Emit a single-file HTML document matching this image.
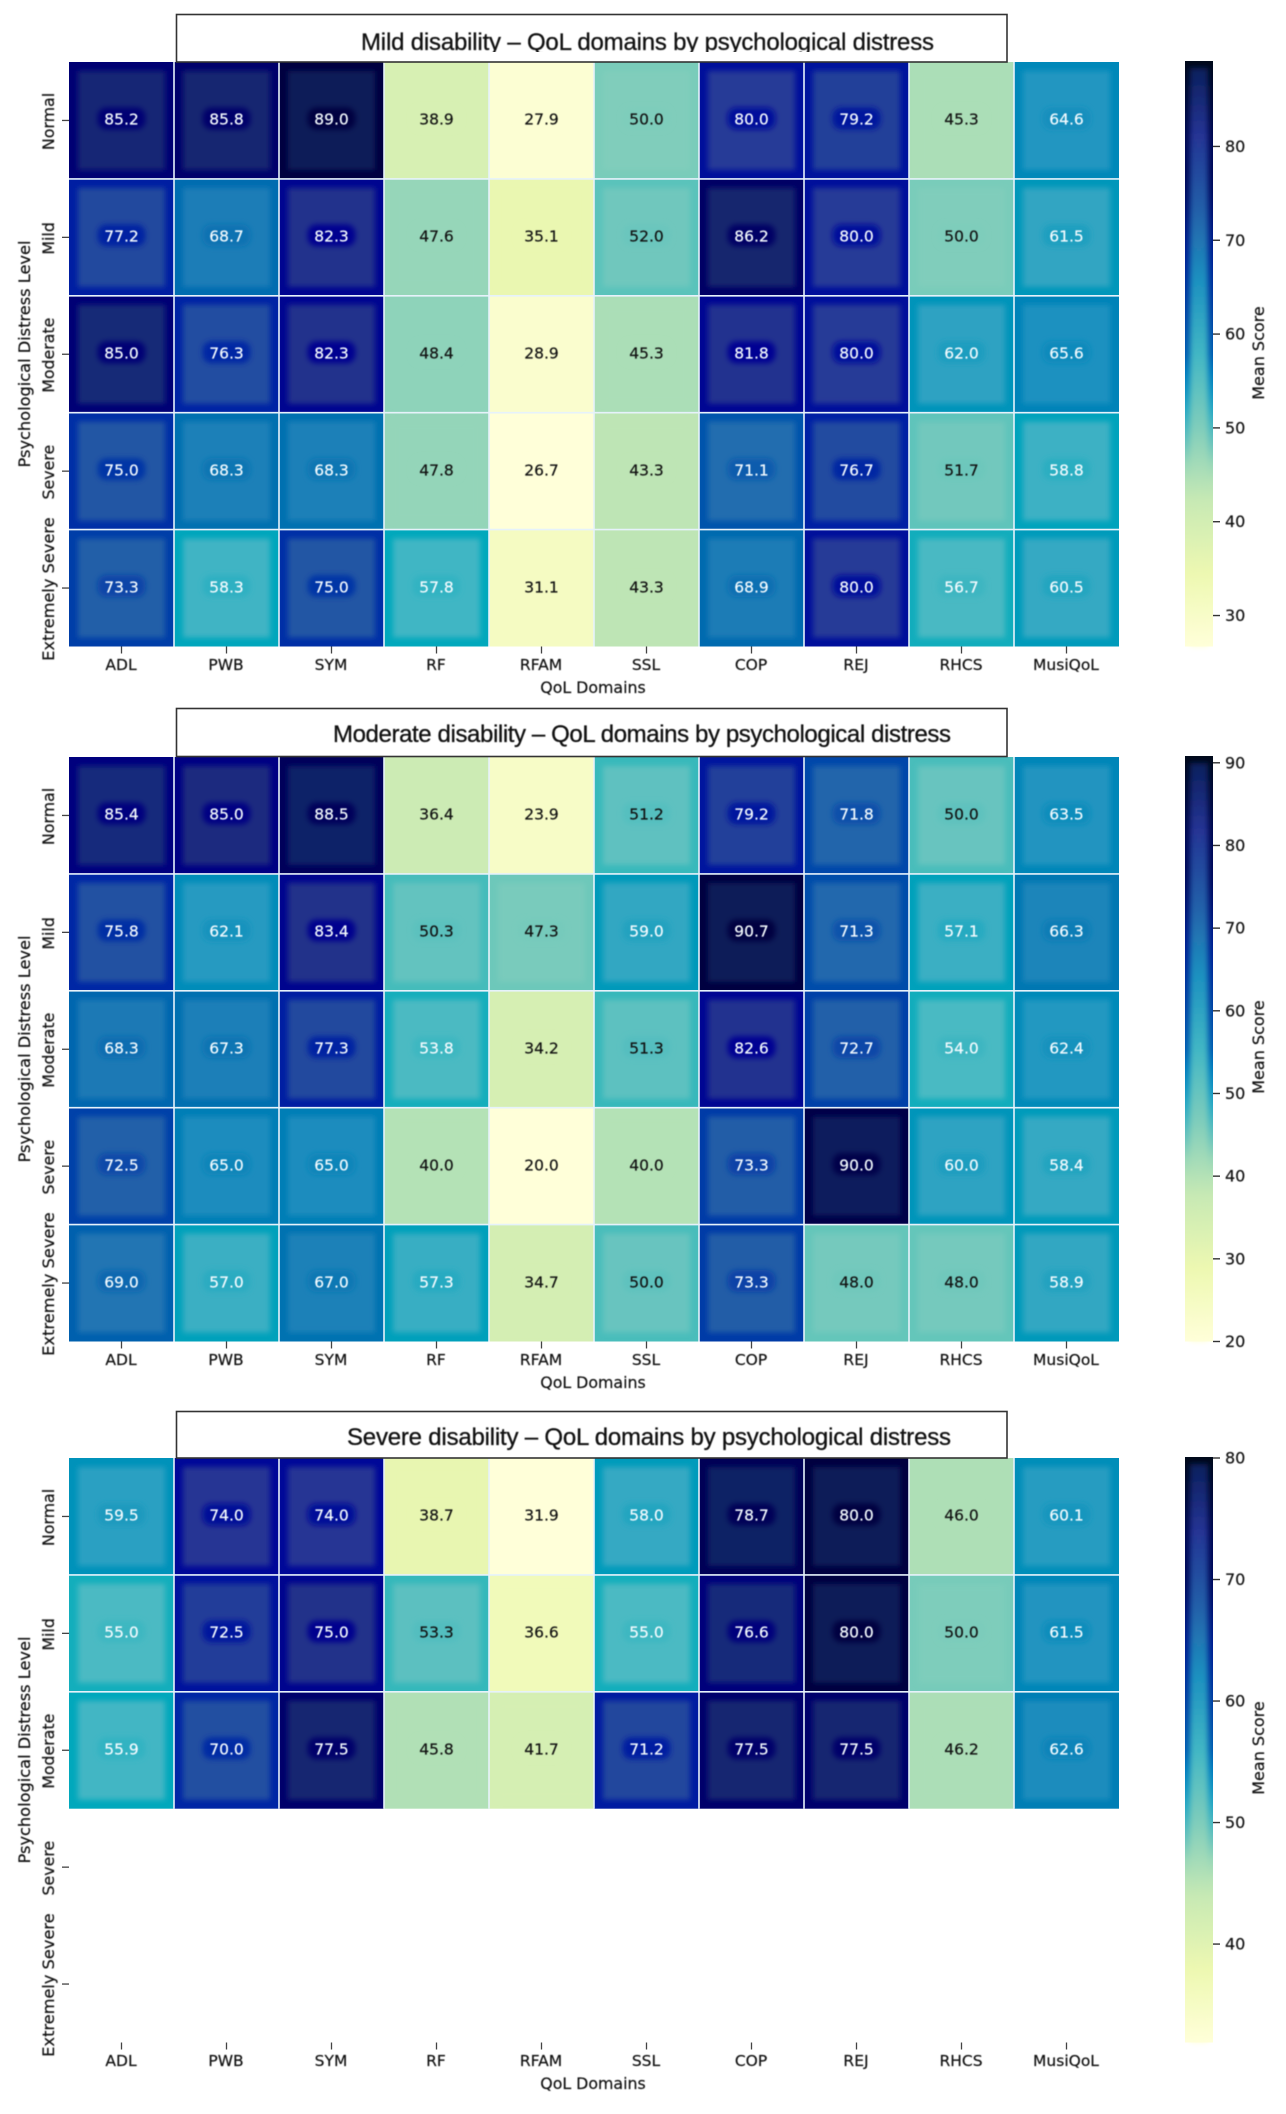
<!DOCTYPE html>
<html lang="en">
<head>
<meta charset="utf-8">
<title>QoL domains by psychological distress</title>
<style>
html,body{margin:0;padding:0;background:#fff;}
body{width:1286px;height:2114px;overflow:hidden;}
svg{display:block;}
text{font-family:"DejaVu Sans","Liberation Sans",sans-serif;fill:#111;}
.soft{filter:blur(0.4px);stroke:#111;stroke-width:0.2px;}
.title{font-family:"Liberation Sans",sans-serif;font-size:24px;fill:#111;stroke:#111;stroke-width:0.3px;}
</style>
</head>
<body>
<svg id="figure" xmlns="http://www.w3.org/2000/svg" width="1286" height="2114" viewBox="0 0 1286 2114">
  <defs>
    <filter id="soft-band" x="-20%" y="-20%" width="140%" height="140%"><feGaussianBlur stdDeviation="2.6"/></filter>
    <filter id="soft-halo" x="-30%" y="-50%" width="160%" height="200%"><feGaussianBlur stdDeviation="2.6"/></filter>
    <clipPath id="title-clip-mild"><rect x="177" y="15" width="830" height="37"/></clipPath>
  </defs>
  <g id="panel-mild"></g>
  <g id="panel-moderate"></g>
  <g id="panel-severe"></g>

  <g>
    <rect x="176.5" y="14.5" width="830.5" height="47.5" fill="#fff" stroke="#333" stroke-width="1.6"/>
    <text class="title soft" x="361" y="50" textLength="573" lengthAdjust="spacing" clip-path="url(#title-clip-mild)">Mild disability – QoL domains by psychological distress</text>
  </g>
  <g>
    <rect x="176.5" y="708.5" width="830.5" height="48" fill="#fff" stroke="#333" stroke-width="1.6"/>
    <text class="title soft" x="333" y="742" textLength="618" lengthAdjust="spacing">Moderate disability – QoL domains by psychological distress</text>
  </g>
  <g>
    <rect x="176.5" y="1411.5" width="830.5" height="46.5" fill="#fff" stroke="#333" stroke-width="1.6"/>
    <text class="title soft" x="347" y="1445" textLength="604" lengthAdjust="spacing">Severe disability – QoL domains by psychological distress</text>
  </g>

  <g>
    <text class="soft" x="593" y="693" text-anchor="middle" font-size="15.8">QoL Domains</text>
    <text class="soft" x="593" y="1388" text-anchor="middle" font-size="15.8">QoL Domains</text>
    <text class="soft" x="593" y="2089" text-anchor="middle" font-size="15.8">QoL Domains</text>
    <text class="soft" transform="translate(30,354) rotate(-90)" text-anchor="middle" font-size="16.2">Psychological Distress Level</text>
    <text class="soft" transform="translate(30,1049) rotate(-90)" text-anchor="middle" font-size="16.2">Psychological Distress Level</text>
    <text class="soft" transform="translate(30,1750) rotate(-90)" text-anchor="middle" font-size="16.2">Psychological Distress Level</text>
    <text class="soft" transform="translate(1264,353) rotate(-90)" text-anchor="middle" font-size="16">Mean Score</text>
    <text class="soft" transform="translate(1264,1047) rotate(-90)" text-anchor="middle" font-size="16">Mean Score</text>
    <text class="soft" transform="translate(1264,1748) rotate(-90)" text-anchor="middle" font-size="16">Mean Score</text>
  </g>
</svg>

<script>
// ---- data ----
const domains = ["ADL","PWB","SYM","RF","RFAM","SSL","COP","REJ","RHCS","MusiQoL"];
const distressLevels = ["Normal","Mild","Moderate","Severe","Extremely Severe"];

const mildNormal   = [85.2,85.8,89.0,38.9,27.9,50.0,80.0,79.2,45.3,64.6];
const mildMild     = [77.2,68.7,82.3,47.6,35.1,52.0,86.2,80.0,50.0,61.5];
const mildModerate = [85.0,76.3,82.3,48.4,28.9,45.3,81.8,80.0,62.0,65.6];
const mildSevere   = [75.0,68.3,68.3,47.8,26.7,43.3,71.1,76.7,51.7,58.8];
const mildExtreme  = [73.3,58.3,75.0,57.8,31.1,43.3,68.9,80.0,56.7,60.5];

const modNormal    = [85.4,85.0,88.5,36.4,23.9,51.2,79.2,71.8,50.0,63.5];
const modMild      = [75.8,62.1,83.4,50.3,47.3,59.0,90.7,71.3,57.1,66.3];
const modModerate  = [68.3,67.3,77.3,53.8,34.2,51.3,82.6,72.7,54.0,62.4];
const modSevere    = [72.5,65.0,65.0,40.0,20.0,40.0,73.3,90.0,60.0,58.4];
const modExtreme   = [69.0,57.0,67.0,57.3,34.7,50.0,73.3,48.0,48.0,58.9];

const sevNormal    = [59.5,74.0,74.0,38.7,31.9,58.0,78.7,80.0,46.0,60.1];
const sevMild      = [55.0,72.5,75.0,53.3,36.6,55.0,76.6,80.0,50.0,61.5];
const sevModerate  = [55.9,70.0,77.5,45.8,41.7,71.2,77.5,77.5,46.2,62.6];

const mildColorbarTicks = [30,40,50,60,70,80];
const modColorbarTicks  = [20,30,40,50,60,70,80,90];
const sevColorbarTicks  = [40,50,60,70,80];

// YlGnBu colour map anchors
const ylGnBu = ["#ffffd9","#edf8b1","#c7e9b4","#7fcdbb","#41b6c4","#1d91c0","#225ea8","#253494","#081d58"];

// ---- layout ----
const NS = "http://www.w3.org/2000/svg";
const plotLeft = 69, plotWidth = 1050, barLeft = 1185, barWidth = 28;

function make(tag, attrs, parent, txt) {
  const el = document.createElementNS(NS, tag);
  for (const k in attrs) el.setAttribute(k, attrs[k]);
  if (txt !== undefined) el.textContent = txt;
  parent.appendChild(el);
  return el;
}
function hexRgb(h) { return [1,3,5].map(i => parseInt(h.substr(i,2),16)); }
function clamp01(v) { return Math.max(0, Math.min(1, v)); }
function cmap(t) {
  t = clamp01(t);
  const p = t * (ylGnBu.length - 1), i = Math.min(ylGnBu.length - 2, Math.floor(p)), f = p - i;
  const a = hexRgb(ylGnBu[i]), b = hexRgb(ylGnBu[i+1]);
  return a.map((v,k) => v + (b[k]-v)*f);
}
// Rim seen around each cell: red drains first, green only in the dark range
function rimColor(t) {
  const c = cmap(t);
  const f = clamp01((t - 0.36) / 0.14);
  const mid = clamp01((t - 0.66) / 0.14);
  const deep = clamp01((t - 0.92) / 0.08);
  return [
    Math.max(0, c[0] - 65*f),
    Math.max(0, c[1] - 14*f - 30*mid),
    Math.max(0, c[2] - 8*f + 12*mid - 28*deep)
  ];
}
// Colour bar rim is much stronger and reaches further down the scale
function barRimColor(t) {
  const s = 0.2 * clamp01((t - 0.3) / 0.2);
  const c = cmap(t + s);
  const deep = clamp01((t - 0.86) / 0.14);
  const f = clamp01((t - 0.3) / 0.2);
  return [Math.max(0, c[0] - 40*f), Math.max(0, c[1] - 20*f), Math.max(0, c[2] * (1 - 0.7*deep))];
}
function mix(a, b, f) { return a.map((v,k) => v + (b[k]-v)*f); }
function css(c) { return "rgb(" + c.map(v => Math.round(v)).join(",") + ")"; }
function luminance(c) {
  const l = c.map(v => { v /= 255; return v <= 0.03928 ? v/12.92 : Math.pow((v+0.055)/1.055, 2.4); });
  return 0.2126*l[0] + 0.7152*l[1] + 0.0722*l[2];
}

function drawPanel(id, key, matrix, colorbarTicks, top) {
  const g = document.getElementById(id);
  const rowH = 116.9, colW = plotWidth / domains.length, bottom = top + rowH * distressLevels.length;
  const all = matrix.flat();
  const vMin = Math.min(...all), vMax = Math.max(...all);
  const norm = v => (v - vMin) / (vMax - vMin);
  const xScale = i => plotLeft + colW * i;
  const yScale = j => top + rowH * j;
  const barY = v => top + (vMax - v) / (vMax - vMin) * (bottom - top);

  // cells
  matrix.forEach((row, j) => row.forEach((v, i) => {
    const t = norm(v), x = xScale(i), y = yScale(j);
    const cell = make("g", {}, g);
    
    
    make("rect", {x:x, y:y, width:colW, height:rowH, fill:css(rimColor(t))}, cell);
    make("rect", {x:x+9, y:y+9, width:colW-18, height:rowH-18, fill:css(cmap(t)), filter:"url(#soft-band)"}, cell);
    const cx = x + colW/2, cy = y + rowH/2;
    const haloStrength = clamp01((t - 0.5) / 0.35) * 0.75 + 0.25;
    make("rect", {x:cx-24, y:cy-13, width:48, height:22, rx:9, fill:css(mix(cmap(t), rimColor(t), haloStrength)), filter:"url(#soft-halo)"}, cell);
    const white = luminance(cmap(t)) < 0.408;
    const label = make("text", {x:cx, y:cy+4.2, "text-anchor":"middle", "font-size":15.5, class:"soft",
      style:"fill:" + (white ? "#f4fbff" : "#111") + ";stroke:" + (white ? "#f4fbff" : "#111")}, cell, v.toFixed(1));
    
    
  }));

  // grid lines between cells
  for (let i = 1; i < domains.length; i++) {
    const line = make("line", {x1:xScale(i), x2:xScale(i), y1:top, y2:top+rowH*matrix.length, stroke:"#e6f2fb", "stroke-width":1.6}, g);
    
    
  }
  for (let j = 1; j < matrix.length; j++) {
    const line = make("line", {x1:plotLeft, x2:plotLeft+plotWidth, y1:yScale(j), y2:yScale(j), stroke:"#e6f2fb", "stroke-width":1.6}, g);
    
    
  }

  // x ticks and labels
  domains.forEach((d, i) => {
    const cx = xScale(i) + colW/2;
    const tick = make("line", {x1:cx, x2:cx, y1:bottom, y2:bottom+7, stroke:"#444", "stroke-width":1.3}, g);
    
    
    const lab = make("text", {x:cx-0.5, y:bottom+23.5, "text-anchor":"middle", "font-size":15.5, class:"soft"}, g, d);
    
    
  });

  // y ticks and labels
  distressLevels.forEach((d, j) => {
    const cy = yScale(j) + rowH/2;
    const tick = make("line", {x1:62, x2:plotLeft, y1:cy, y2:cy, stroke:"#444", "stroke-width":1.3}, g);
    
    
    const size = d.length > 10 ? 16.2 : 15.8;
    const lab = make("text", {transform:"translate(54," + (cy+1) + ") rotate(-90)", "text-anchor":"middle", "font-size":size, class:"soft"}, g, d);
    
    
  });

  // colour bar
  const defs = document.querySelector("#figure defs");
  const mainGrad = make("linearGradient", {id:key+"-main", gradientUnits:"userSpaceOnUse", x1:0, x2:0, y1:bottom, y2:top}, defs);
  const rimGrad  = make("linearGradient", {id:key+"-rim",  gradientUnits:"userSpaceOnUse", x1:0, x2:0, y1:bottom, y2:top}, defs);
  for (let s = 0; s <= 32; s++) {
    const t = s / 32;
    make("stop", {offset:t, "stop-color":css(cmap(t))}, mainGrad);
    make("stop", {offset:t, "stop-color":css(barRimColor(t))}, rimGrad);
  }
  const bar = make("g", {}, g);
  
  
  make("rect", {x:barLeft, y:top-1, width:barWidth, height:bottom-top+1, fill:"url(#"+key+"-rim)"}, bar);
  make("rect", {x:barLeft+5, y:top+6, width:barWidth-10, height:bottom-top-6, fill:"url(#"+key+"-main)", filter:"url(#soft-band)"}, bar);
  colorbarTicks.forEach(v => {
    const y = barY(v);
    const tick = make("line", {x1:barLeft+barWidth, x2:barLeft+barWidth+7, y1:y, y2:y, stroke:"#333", "stroke-width":1.4}, g);
    
    
    const lab = make("text", {x:1225, y:y+5.5, "font-size":16, class:"soft"}, g, String(v));
    
    
  });
}

drawPanel("panel-mild", "mild", [mildNormal,mildMild,mildModerate,mildSevere,mildExtreme], mildColorbarTicks, 62);
drawPanel("panel-moderate", "moderate", [modNormal,modMild,modModerate,modSevere,modExtreme], modColorbarTicks, 757);
drawPanel("panel-severe", "severe", [sevNormal,sevMild,sevModerate], sevColorbarTicks, 1458);
</script>
</body>
</html>
